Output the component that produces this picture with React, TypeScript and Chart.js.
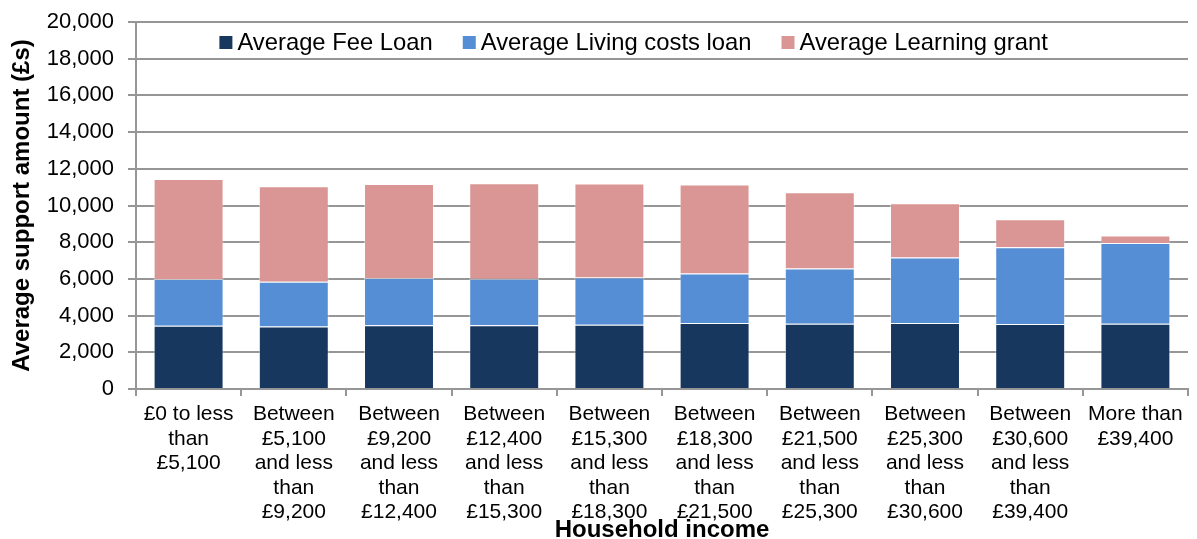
import React, { useEffect, useRef } from "react";
import { Chart, registerables } from "chart.js";

Chart.register(...registerables);

const FONT = "'Liberation Sans', Arial, sans-serif";

const categories: string[][] = [
  ["£0 to less", "than", "£5,100"],
  ["Between", "£5,100", "and less", "than", "£9,200"],
  ["Between", "£9,200", "and less", "than", "£12,400"],
  ["Between", "£12,400", "and less", "than", "£15,300"],
  ["Between", "£15,300", "and less", "than", "£18,300"],
  ["Between", "£18,300", "and less", "than", "£21,500"],
  ["Between", "£21,500", "and less", "than", "£25,300"],
  ["Between", "£25,300", "and less", "than", "£30,600"],
  ["Between", "£30,600", "and less", "than", "£39,400"],
  ["More than", "£39,400"],
];

const feeLoan = [3450, 3400, 3470, 3470, 3500, 3600, 3560, 3600, 3540, 3560];
const livingCostsLoan = [2545, 2450, 2580, 2540, 2580, 2690, 3000, 3560, 4180, 4400];
const learningGrant = [5450, 5200, 5120, 5200, 5120, 4850, 4160, 2960, 1530, 400];

const seriesLabels = ["Average Fee Loan", "Average Living costs loan", "Average Learning grant"];
const seriesColors = ["#17375E", "#558ED5", "#D99694"];

const yMin = 0;
const yMax = 20000;
const yStep = 2000;

const yAxisTitle = "Average support amount (£s)";
const xAxisTitle = "Household income";

const GRID = "#969696";

const legendPlugin = {
  id: "customLegend",
  afterDraw(chart: any) {
    const { ctx, chartArea } = chart;
    ctx.save();
    ctx.font = `23.8px ${FONT}`;
    const box = 13;
    const gapText = 5;
    const gapItem = 30;
    const items = chart.data.datasets.map((ds: any) => ({
      label: ds.label as string,
      color: ds.backgroundColor as string,
      w: ctx.measureText(ds.label).width,
    }));
    const total =
      items.reduce((s: number, it: any) => s + box + gapText + it.w, 0) +
      gapItem * (items.length - 1);
    let x = chartArea.left + chartArea.width * 0.473 - total / 2;
    const baseY = chartArea.top + 28;
    for (const it of items) {
      ctx.fillStyle = it.color;
      ctx.fillRect(x, chartArea.top + 14, box, box);
      x += box + gapText;
      ctx.fillStyle = "#000";
      ctx.textBaseline = "alphabetic";
      ctx.textAlign = "left";
      ctx.fillText(it.label, x, baseY);
      x += it.w + gapItem;
    }
    ctx.restore();
  },
};

export default function App() {
  const ref = useRef<HTMLCanvasElement | null>(null);

  useEffect(() => {
    if (!ref.current) return;
    const seriesData = [feeLoan, livingCostsLoan, learningGrant];
    const chart = new Chart(ref.current, {
      type: "bar",
      data: {
        labels: categories,
        datasets: seriesLabels.map((label, i) => ({
          label,
          data: seriesData[i],
          backgroundColor: seriesColors[i],
          borderColor: "rgba(255,255,255,0.45)",
          borderWidth: 1,
          categoryPercentage: 1,
          barPercentage: 0.665,
        })),
      },
      options: {
        responsive: false,
        animation: false,
        layout: { padding: { top: 22, right: 9, bottom: 0, left: 0 } },
        plugins: {
          legend: { display: false },
          tooltip: { enabled: false },
          title: { display: false },
        },
        scales: {
          x: {
            stacked: true,
            grid: {
              display: true,
              drawOnChartArea: false,
              drawTicks: true,
              tickLength: 7,
              offset: true,
              color: GRID,
              lineWidth: 2,
            },
            border: { color: GRID, width: 2 },
            ticks: {
              color: "#000",
              font: { family: FONT, size: 21, lineHeight: 24.5 / 21 },
              maxRotation: 0,
              minRotation: 0,
              autoSkip: false,
              padding: 6,
            },
            title: {
              display: true,
              text: xAxisTitle,
              color: "#000",
              font: { family: FONT, size: 24, weight: "bold", lineHeight: 1 },
              padding: { top: 0, bottom: -3 },
            },
            afterFit(scale: any) {
              scale.height = 150;
            },
          },
          y: {
            stacked: true,
            min: yMin,
            max: yMax,
            grid: { color: GRID, lineWidth: 2, tickLength: 8 },
            border: { color: GRID, width: 2 },
            ticks: {
              stepSize: yStep,
              color: "#000",
              font: { family: FONT, size: 22 },
              padding: 14,
              callback: (v: any) => Number(v).toLocaleString("en-US"),
            },
            title: {
              display: true,
              text: yAxisTitle,
              color: "#000",
              font: { family: FONT, size: 24, weight: "bold", lineHeight: 1 },
              padding: { top: 10, bottom: 0 },
            },
            afterFit(scale: any) {
              scale.width = 136;
              scale.paddingTop = 0;
              scale.paddingBottom = 0;
            },
          },
        },
      },
      plugins: [legendPlugin],
    });
    return () => chart.destroy();
  }, []);

  return (
    <div style={{ position: "absolute", left: 0, top: 0, width: 1197, height: 539, background: "#fff" }}>
      <canvas ref={ref} width={1197} height={539} style={{ display: "block" }} />
    </div>
  );
}
